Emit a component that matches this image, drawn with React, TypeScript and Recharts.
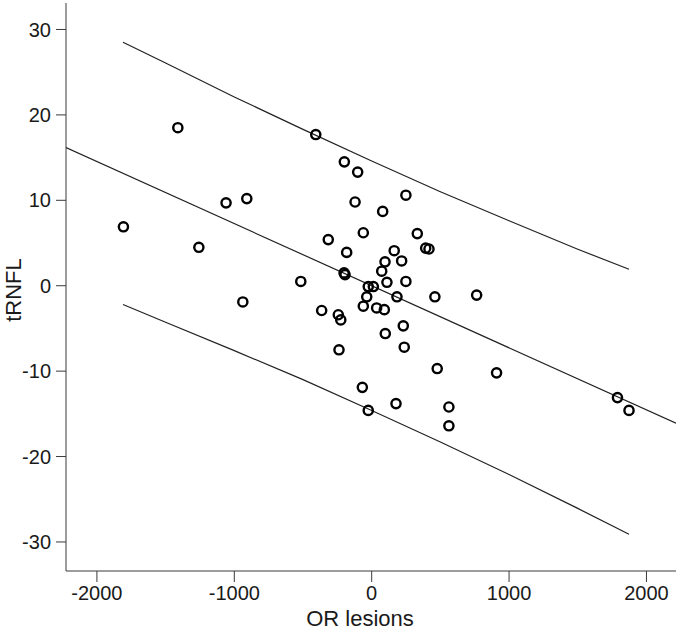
import { ScatterChart, Scatter, XAxis, YAxis, Label } from 'recharts'

// values
const orLesions = [
  -1411, -407, -199, -102, 249, -909, -1060, -121, 80, -1807,
  -61, 332, -316, -1258, -182, 164, 393, 417, 218, 97,
  73, -201, -194, -516, 111, 249, -25, 12, -36, 184,
  460, 764, -364, -243, -225, -61, 36, 92, 230, 99,
  -238, 237, 477, 909, -68, 177, -25, 562, 562, 1789,
  1873, -938,
]
const trnfl = [
  18.5, 17.7, 14.5, 13.3, 10.6, 10.2, 9.7, 9.8, 8.7, 6.9,
  6.2, 6.1, 5.4, 4.5, 3.9, 4.1, 4.4, 4.3, 2.9, 2.8,
  1.7, 1.5, 1.3, 0.5, 0.4, 0.5, -0.1, -0.1, -1.3, -1.3,
  -1.3, -1.1, -2.9, -3.4, -4.0, -2.4, -2.6, -2.8, -4.7, -5.6,
  -7.5, -7.2, -9.7, -10.2, -11.9, -13.8, -14.6, -14.2, -16.4, -13.1,
  -14.6, -1.9,
]

// fitted line and prediction limits
const fitX = [-2225, 2215]
const fitY = [16.17, -16.1]
const bandX = [-1810, -1500, -1000, -500, 0, 500, 1000, 1500, 1873]
const upperY = [28.5, 26.07, 22.1, 18.3, 14.6, 11.0, 7.6, 4.27, 1.93]
const lowerY = [-2.2, -4.27, -7.6, -11.0, -14.6, -18.3, -22.1, -26.07, -29.1]

const xTicks = [-2000, -1000, 0, 1000, 2000]
const yTicks = [-30, -20, -10, 0, 10, 20, 30]

const zip = (xs: number[], ys: number[]) => xs.map((x, i) => ({ x, y: ys[i] }))

const points = zip(orLesions, trnfl)
const fit = zip(fitX, fitY)
const upper = zip(bandX, upperY)
const lower = zip(bandX, lowerY)

const FONT = '"Liberation Sans", Arial, sans-serif'
const AXIS = '#3a3a3a'
const INK = '#1a1a1a'

const Ring = (props: any) => {
  const { cx, cy } = props
  return <circle cx={cx} cy={cy} r={4.6} fill="none" stroke="#000" strokeWidth={2.4} />
}

const NoDot = () => <g />

export default function App() {
  const tick = { fontSize: 20, fontFamily: FONT, fill: INK }
  const lineStyle = { stroke: '#222', strokeWidth: 1.2 }
  return (
    <div style={{ position: 'absolute', left: 0, top: 0, background: '#fff' }}>
      <ScatterChart width={680} height={631} margin={{ top: 3, right: 4, bottom: 0, left: 0 }}>
        <XAxis
          type="number"
          dataKey="x"
          domain={[-2225, 2215]}
          allowDataOverflow
          ticks={xTicks}
          tickSize={11}
          tickMargin={4}
          height={60}
          stroke={AXIS}
          tick={tick}
        >
          <Label
            content={() => (
              <text x={360} y={626} textAnchor="middle" fontSize={22} fontFamily={FONT} fill={INK}>
                OR lesions
              </text>
            )}
          />
        </XAxis>
        <YAxis
          type="number"
          dataKey="y"
          domain={[-33.4, 33.1]}
          allowDataOverflow
          ticks={yTicks}
          tickSize={10}
          tickMargin={5}
          width={66}
          stroke={AXIS}
          tick={tick}
        >
          <Label
            content={() => (
              <text
                x={21}
                y={290}
                transform="rotate(-90 21 290)"
                textAnchor="middle"
                fontSize={22}
                fontFamily={FONT}
                fill={INK}
              >
                tRNFL
              </text>
            )}
          />
        </YAxis>
        <Scatter data={fit} line={lineStyle} shape={NoDot} isAnimationActive={false} />
        <Scatter data={upper} line={lineStyle} shape={NoDot} isAnimationActive={false} />
        <Scatter data={lower} line={lineStyle} shape={NoDot} isAnimationActive={false} />
        <Scatter data={points} shape={<Ring />} isAnimationActive={false} />
      </ScatterChart>
    </div>
  )
}
